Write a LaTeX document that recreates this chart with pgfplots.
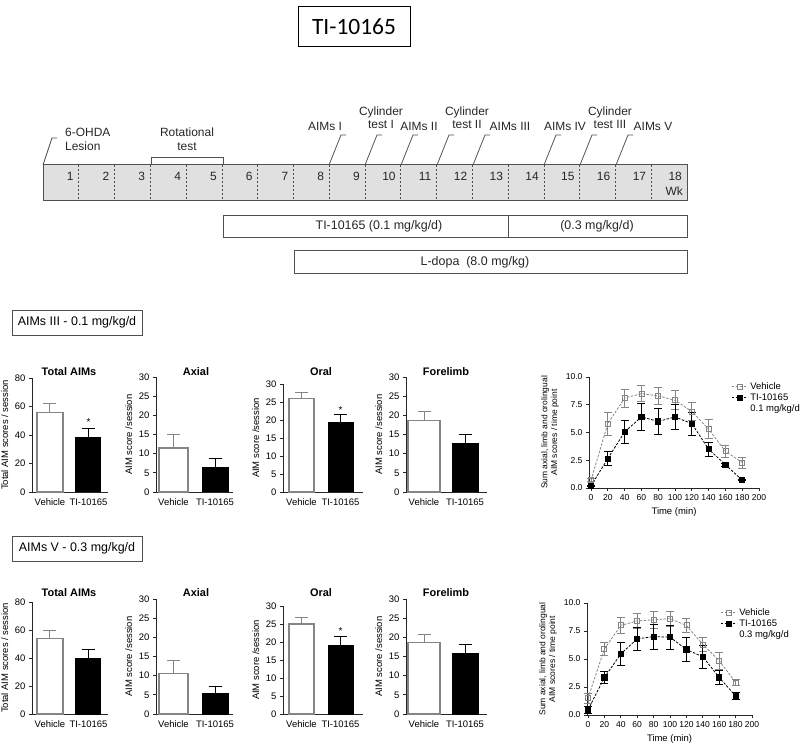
\documentclass[border=0pt]{standalone}
\usepackage{fontspec}
\setmainfont{Liberation Sans}
\newfontfamily\calibri{Carlito}
\usepackage{pgfplots}
\pgfplotsset{compat=1.18}
\newcommand{\fs}[2]{\fontsize{#1}{#2}\selectfont}
\definecolor{vg}{HTML}{858585}
\definecolor{tlfill}{HTML}{E0E0E0}
\definecolor{tlline}{HTML}{505050}

\pgfplotsset{
  base/.style={scale only axis, anchor=south west, clip=false,
    axis x line*=bottom, axis y line*=left,
    axis line style={line width=0.8bp, black!85},
    tick align=outside, major tick length=3bp,
    tick style={line width=0.8bp, black!85},
    ticklabel style={font=\fs{9.5}{11}},
    /pgf/number format/assume math mode=true,
    label style={font=\fs{9.5}{11}},
  },
  barax/.style={base, xmin=0, ymin=0, xtick style={draw=none}},
  vbar/.style={ybar, bar shift=0pt, draw=vg, fill=white, line width=1.2bp,
     error bars/y dir=plus, error bars/y explicit,
     error bars/error bar style={line width=1bp, vg},
     error bars/error mark options={rotate=90, mark size=6.5bp, line width=1bp, vg}},
  tbar/.style={ybar, bar shift=0pt, draw=black, fill=black, line width=1bp,
     error bars/y dir=plus, error bars/y explicit,
     error bars/error bar style={line width=1bp, black},
     error bars/error mark options={rotate=90, mark size=6.5bp, line width=1bp, black}},
  tc/.style={base, ymin=0, ymax=10, xtick={0,20,...,200}, ytick={0,2.5,5,7.5,10},
     ticklabel style={font=\fs{8.6}{10}},
     yticklabel style={/pgf/number format/fixed, /pgf/number format/fixed zerofill, /pgf/number format/precision=1},
     xlabel={Time (min)},
     ylabel={Sum axial, limb and orolingual\\AIM scores / time point},
     ylabel style={align=center, font=\fs{8.5}{10}},
     legend cell align=left,
     legend style={draw=none, fill=none, anchor=north west, font=\fs{9.5}{11}, row sep=-1bp},
     legend image code/.code={\draw[mark repeat=2,mark phase=2] plot coordinates {(0bp,0bp) (8bp,0bp) (16bp,0bp)};}},
  vline/.style={vg, line width=0.8bp, dash pattern=on 2.5bp off 1.5bp, mark=square, mark size=2.5bp,
     mark options={solid, fill=white, draw=vg},
     error bars/y dir=both, error bars/y explicit,
     error bars/error bar style={solid, vg, line width=0.8bp},
     error bars/error mark options={solid, rotate=90, mark size=4bp, vg, line width=0.8bp}},
  tline/.style={black, line width=0.8bp, dash pattern=on 2.5bp off 1.5bp, mark=square*, mark size=2.6bp,
     mark options={solid, fill=black, draw=black},
     error bars/y dir=both, error bars/y explicit,
     error bars/error bar style={solid, black, line width=0.8bp},
     error bars/error mark options={solid, rotate=90, mark size=4bp, black, line width=0.8bp}},
}

\begin{document}
\begin{tikzpicture}[x=1bp, y=1bp]
\path[use as bounding box] (0bp,0bp) rectangle (800bp,747bp);

\begin{scope}[shift={(0bp,747bp)}, x=1bp, y=-1bp]
% ---------- title ----------
\draw[line width=0.8bp] (298,6) rectangle (410,46);
\node[font=\calibri\fs{23.5}{26}] at (354,27) {TI-10165};

% ---------- timeline ----------
\draw[fill=tlfill, draw=tlline, line width=1bp] (43,165) rectangle (687,201);
\foreach \k in {1,...,17}
  \draw[dash pattern=on 2bp off 2bp, line width=0.7bp, draw=tlline] ({43+35.78*\k},165) -- ({43+35.78*\k},201);
\foreach \k in {1,...,18}
  \node[anchor=east, inner sep=0pt, font=\fs{12}{14}, text=black!85] at ({43+35.78*\k-5},176) {\k};
\node[anchor=east, inner sep=0pt, font=\fs{12}{14}, text=black!85] at (683,191) {Wk};

\draw[line width=0.8bp, tlline] (151,165) -- (151,157) -- (223,157) -- (223,165);
\node[font=\fs{12}{14}, align=center, text=black!85] at (187,139) {Rotational\\test};

\draw[line width=0.8bp, tlline] (43,165) -- (52,138) -- (57,138);
\node[font=\fs{12}{14}, align=left, anchor=west, inner sep=0pt, text=black!85] at (65,139) {6-OHDA\\Lesion};

\foreach \b in {329,365,401,437,473,544,580,616}
  \draw[line width=0.8bp, tlline] (\b,165) -- ({\b+12},135) -- ({\b+17},135);

\begin{scope}[every node/.style={font=\fs{12}{13.5}, align=center, text=black!85}]
\node at (325,126) {AIMs I};
\node at (381,117.5) {Cylinder\\test I};
\node at (419,126) {AIMs II};
\node at (467,117.5) {Cylinder\\test II};
\node at (510,126) {AIMs III};
\node at (565,126) {AIMs IV};
\node at (610,117.5) {Cylinder\\test III};
\node at (653,126) {AIMs V};
\end{scope}

\draw[line width=0.8bp, tlline] (223,215) rectangle (687,237);
\draw[line width=0.8bp, tlline] (508,215) -- (508,237);
\node[font=\fs{12.5}{14}, text=black!85] at (379,226) {TI-10165 (0.1 mg/kg/d)};
\node[font=\fs{12.5}{14}, text=black!85] at (597,226) {(0.3 mg/kg/d)};
\draw[line width=0.8bp, tlline] (294,250) rectangle (687,273);
\node[font=\fs{12.5}{14}, text=black!85] at (475,262) {L-dopa\ \ (8.0 mg/kg)};

% ---------- section labels ----------
\draw[line width=0.8bp, tlline] (12,310) rectangle (142,335);
\node[font=\fs{12.5}{14}] at (77,322.5) {AIMs III - 0.1 mg/kg/d};
\draw[line width=0.8bp, tlline] (12,536) rectangle (142,561);
\node[font=\fs{12.5}{14}] at (77,548.5) {AIMs V - 0.3 mg/kg/d};

% ---------- panel titles ----------
\begin{scope}[every node/.style={font=\bfseries\fs{11}{13}}]
\node at (69,372) {Total AIMs};
\node at (196,372) {Axial};
\node at (321,372) {Oral};
\node at (446,372) {Forelimb};
\node at (69,593) {Total AIMs};
\node at (196,593) {Axial};
\node at (321,593) {Oral};
\node at (446,593) {Forelimb};
\end{scope}
\end{scope}

% ================= ROW 1 =================
\begin{axis}[barax, at={(32bp,255bp)}, width=76bp, height=114bp, xmax=76, ymax=80,
  ytick={0,20,40,60,80}, xtick={18,56.5}, xticklabels={Vehicle,TI-10165},
  ylabel={Total AIM scores / session}]
\addplot[bar width=26bp, vbar] coordinates {(18,56) +- (0,6)};
\addplot[bar width=25bp, tbar] coordinates {(56.5,38.5) +- (0,6.3)};
\node[font=\fs{10}{11}] at (axis cs:56.5,49) {*};
\end{axis}

\begin{axis}[barax, at={(156bp,255bp)}, width=77bp, height=115bp, xmax=77, ymax=30,
  ytick={0,5,...,30}, xtick={17.5,59}, xticklabels={Vehicle,TI-10165},
  ylabel={AIM score /session}]
\addplot[bar width=29bp, vbar] coordinates {(17.5,11.5) +- (0,3.5)};
\addplot[bar width=26bp, tbar] coordinates {(59,6.3) +- (0,2.4)};
\end{axis}

\begin{axis}[barax, at={(283bp,255bp)}, width=80bp, height=108bp, xmax=80, ymax=30,
  ytick={0,5,...,30}, xtick={18.5,57.5}, xticklabels={Vehicle,TI-10165},
  ylabel={AIM score /session}]
\addplot[bar width=25bp, vbar] coordinates {(18.5,26) +- (0,1.7)};
\addplot[bar width=25bp, tbar] coordinates {(57.5,19.4) +- (0,2.1)};
\node[font=\fs{10}{11}] at (axis cs:57.5,22.8) {*};
\end{axis}

\begin{axis}[barax, at={(406bp,255bp)}, width=81bp, height=115bp, xmax=81, ymax=30,
  ytick={0,5,...,30}, xtick={18,59}, xticklabels={Vehicle,TI-10165},
  ylabel={AIM score /session}]
\addplot[bar width=32bp, vbar] coordinates {(18,18.6) +- (0,2.4)};
\addplot[bar width=26bp, tbar] coordinates {(59,12.6) +- (0,2.5)};
\end{axis}

\begin{axis}[tc, at={(589bp,259bp)}, width=170bp, height=111bp, xmin=-2.4, xmax=200,
  legend style={at={(0.82,0.99)}}]
\addplot[vline] coordinates {(0,0.7) +- (0,0.15) (20,5.8) +- (0,1.05) (40,8.1) +- (0,0.8)
  (60,8.5) +- (0,0.7) (80,8.3) +- (0,0.8) (100,7.9) +- (0,0.85) (120,6.9) +- (0,0.8)
  (140,5.3) +- (0,0.85) (160,3.3) +- (0,0.5) (180,2.3) +- (0,0.5)};
\addlegendentry{Vehicle}
\addplot[tline] coordinates {(0,0.2) +- (0,0.05) (20,2.65) +- (0,0.65) (40,5.05) +- (0,1.05)
  (60,6.4) +- (0,1.2) (80,6.0) +- (0,1.15) (100,6.4) +- (0,1.1) (120,5.8) +- (0,1.05)
  (140,3.5) +- (0,0.65) (160,2.1) +- (0,0.15) (180,0.7) +- (0,0.05)};
\addlegendentry{TI-10165}
\addlegendimage{empty legend}
\addlegendentry{0.1 mg/kg/d}
\end{axis}

% ================= ROW 2 =================
\begin{axis}[barax, at={(32bp,33bp)}, width=76bp, height=112bp, xmax=76, ymax=80,
  ytick={0,20,40,60,80}, xtick={18,56.5}, xticklabels={Vehicle,TI-10165},
  ylabel={Total AIM scores / session}]
\addplot[bar width=26bp, vbar] coordinates {(18,54) +- (0,5.5)};
\addplot[bar width=25bp, tbar] coordinates {(56.5,40) +- (0,6)};
\end{axis}

\begin{axis}[barax, at={(156bp,33bp)}, width=77bp, height=115bp, xmax=77, ymax=30,
  ytick={0,5,...,30}, xtick={17.5,59}, xticklabels={Vehicle,TI-10165},
  ylabel={AIM score /session}]
\addplot[bar width=29bp, vbar] coordinates {(17.5,10.5) +- (0,3.4)};
\addplot[bar width=26bp, tbar] coordinates {(59,5.3) +- (0,1.9)};
\end{axis}

\begin{axis}[barax, at={(283bp,33bp)}, width=80bp, height=108bp, xmax=80, ymax=30,
  ytick={0,5,...,30}, xtick={18.5,57.5}, xticklabels={Vehicle,TI-10165},
  ylabel={AIM score /session}]
\addplot[bar width=25bp, vbar] coordinates {(18.5,25) +- (0,1.7)};
\addplot[bar width=25bp, tbar] coordinates {(57.5,19) +- (0,2.5)};
\node[font=\fs{10}{11}] at (axis cs:57.5,23) {*};
\end{axis}

\begin{axis}[barax, at={(406bp,33bp)}, width=81bp, height=115bp, xmax=81, ymax=30,
  ytick={0,5,...,30}, xtick={18,59}, xticklabels={Vehicle,TI-10165},
  ylabel={AIM score /session}]
\addplot[bar width=32bp, vbar] coordinates {(18,18.6) +- (0,2.1)};
\addplot[bar width=26bp, tbar] coordinates {(59,15.8) +- (0,2.3)};
\end{axis}

\begin{axis}[tc, at={(587bp,32bp)}, width=165bp, height=112bp, xmin=-1.2, xmax=200,
  legend style={at={(0.79,0.99)}}]
\addplot[vline] coordinates {(0,1.5) +- (0,0.45) (20,5.9) +- (0,0.55) (40,8.0) +- (0,0.75)
  (60,8.4) +- (0,0.7) (80,8.5) +- (0,0.75) (100,8.6) +- (0,0.65) (120,8.0) +- (0,0.65)
  (140,6.3) +- (0,0.65) (160,4.85) +- (0,0.75) (180,2.9) +- (0,0.3)};
\addlegendentry{Vehicle}
\addplot[tline] coordinates {(0,0.45) +- (0,0.3) (20,3.35) +- (0,0.55) (40,5.45) +- (0,1.05)
  (60,6.8) +- (0,1.05) (80,7.0) +- (0,1.1) (100,6.95) +- (0,1.05) (120,5.85) +- (0,1.1)
  (140,5.2) +- (0,1.0) (160,3.35) +- (0,0.6) (180,1.7) +- (0,0.35)};
\addlegendentry{TI-10165}
\addlegendimage{empty legend}
\addlegendentry{0.3 mg/kg/d}
\end{axis}

\end{tikzpicture}
\end{document}
